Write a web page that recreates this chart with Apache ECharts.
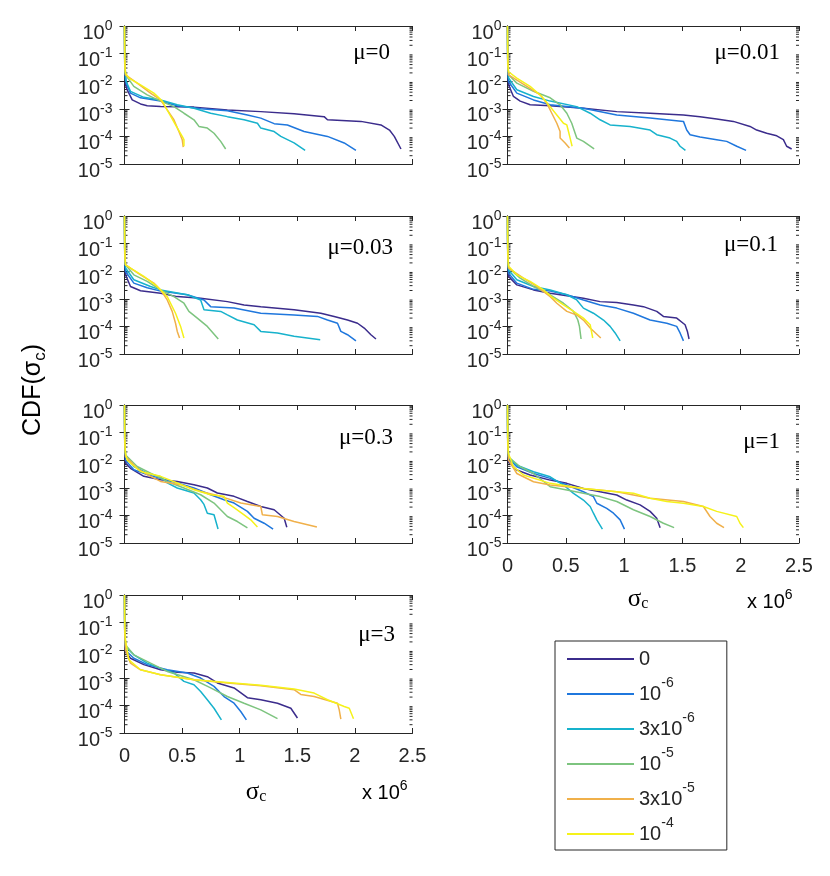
<!DOCTYPE html>
<html><head><meta charset="utf-8">
<script src="https://cdn.jsdelivr.net/npm/echarts@6/dist/echarts.min.js"></script>
<style>html,body{margin:0;padding:0;background:#fff}#c{width:830px;height:876px}</style>
</head><body><div id="c"></div>
<script>
// ---------- data (x in units of 10^6) ----------
const seriesNames = ['0', '10^-6', '3x10^-6', '10^-5', '3x10^-5', '10^-4'];
const seriesColors = ['#3b2c8c', '#1f77dd', '#17b2cc', '#7dc47f', '#f0b04a', '#f5f21a'];
const muLabels = ['μ=0', 'μ=0.01', 'μ=0.03', 'μ=0.1', 'μ=0.3', 'μ=1', 'μ=3'];
const minorTickValues = [2e-5,3e-5,4e-5,5e-5,6e-5,7e-5,8e-5,9e-5,2e-4,3e-4,4e-4,5e-4,6e-4,7e-4,8e-4,9e-4,
  2e-3,3e-3,4e-3,5e-3,6e-3,7e-3,8e-3,9e-3,2e-2,3e-2,4e-2,5e-2,6e-2,7e-2,8e-2,9e-2,0.2,0.3,0.4,0.5,0.6,0.7,0.8,0.9];

const mu0 = [
  [[0,1],[0.002,0.04],[0.009,7.4e-3],[0.023,4.9e-3],[0.067,2.1e-3],[0.139,1.5e-3],[0.197,1.3e-3],[0.313,1.2e-3],[0.603,1.15e-3],[0.893,9.1e-4],[1.183,7.9e-4],[1.472,6.6e-4],[1.733,5.2e-4],[1.762,4.0e-4],[2.052,3.5e-4],[2.226,2.6e-4],[2.30,1.7e-4],[2.342,1.0e-4],[2.40,3.5e-5]],
  [[0,1],[0.002,0.05],[0.0145,8.5e-3],[0.052,3.7e-3],[0.139,2.5e-3],[0.313,1.9e-3],[0.458,1.3e-3],[0.661,1.0e-3],[0.893,8.5e-4],[1.067,6.0e-4],[1.183,4.6e-4],[1.299,2.9e-4],[1.414,2.6e-4],[1.559,1.5e-4],[1.762,1.0e-4],[1.907,5.8e-5],[2.009,3.1e-5]],
  [[0,1],[0.002,0.06],[0.009,1.1e-2],[0.052,4.3e-3],[0.168,2.6e-3],[0.313,2.1e-3],[0.458,1.4e-3],[0.603,1.05e-3],[0.748,6.9e-4],[0.893,5.2e-4],[1.038,4.0e-4],[1.154,3.0e-4],[1.183,2.0e-4],[1.299,1.5e-4],[1.357,1.0e-4],[1.472,5.8e-5],[1.568,3.1e-5]],
  [[0,1],[0.002,0.07],[0.009,1.7e-2],[0.081,6.5e-3],[0.197,3.2e-3],[0.313,1.9e-3],[0.429,1.2e-3],[0.516,6.9e-4],[0.603,4.0e-4],[0.646,2.3e-4],[0.719,2.0e-4],[0.777,1.3e-4],[0.835,6.6e-5],[0.878,3.5e-5]],
  [[0,1],[0.002,0.07],[0.009,1.7e-2],[0.110,8.5e-3],[0.226,3.7e-3],[0.313,2.1e-3],[0.371,9.1e-4],[0.429,4.0e-4],[0.472,1.5e-4],[0.501,7.6e-5],[0.510,4.1e-5]],
  [[0,1],[0.002,0.1],[0.004,0.03],[0.009,1.95e-2],[0.038,1.3e-2],[0.139,7.4e-3],[0.255,3.7e-3],[0.328,1.9e-3],[0.386,6.9e-4],[0.443,2.6e-4],[0.501,1.0e-4],[0.516,7.6e-5],[0.516,4.4e-5]]
];
const mu001 = [
  [[0,1],[0.002,0.04],[0.009,7.4e-3],[0.051,2.8e-3],[0.109,1.9e-3],[0.194,1.4e-3],[0.366,1.3e-3],[0.651,1.05e-3],[0.937,7.9e-4],[1.223,6.9e-4],[1.509,6.0e-4],[1.651,5.2e-4],[1.794,4.3e-4],[1.937,3.5e-4],[2.08,2.3e-4],[2.137,1.7e-4],[2.223,1.3e-4],[2.309,1.05e-4],[2.366,7.6e-5],[2.394,4.4e-5],[2.437,3.5e-5]],
  [[0,1],[0.002,0.05],[0.009,9.8e-3],[0.08,3.7e-3],[0.223,2.1e-3],[0.366,1.4e-3],[0.651,1.05e-3],[0.937,6.0e-4],[1.223,4.6e-4],[1.509,3.5e-4],[1.537,1.7e-4],[1.566,1.15e-4],[1.651,9.5e-5],[1.794,7.6e-5],[1.88,6.6e-5],[1.966,4.4e-5],[2.046,3.1e-5]],
  [[0,1],[0.002,0.06],[0.009,1.3e-2],[0.08,4.9e-3],[0.223,2.8e-3],[0.366,1.9e-3],[0.594,1.2e-3],[0.709,6.9e-4],[0.794,4.0e-4],[0.88,2.6e-4],[1.051,2.3e-4],[1.223,1.7e-4],[1.28,1.15e-4],[1.394,8.7e-5],[1.451,6.6e-5],[1.48,4.4e-5],[1.526,3.1e-5]],
  [[0,1],[0.002,0.07],[0.009,1.7e-2],[0.08,8.5e-3],[0.223,4.3e-3],[0.366,2.5e-3],[0.451,1.4e-3],[0.509,6.9e-4],[0.551,3.0e-4],[0.58,1.3e-4],[0.594,8.7e-5],[0.651,6.6e-5],[0.743,3.5e-5]],
  [[0,1],[0.002,0.07],[0.009,1.7e-2],[0.166,6.5e-3],[0.28,3.2e-3],[0.337,1.6e-3],[0.38,6.9e-4],[0.423,3.0e-4],[0.451,1.5e-4],[0.451,8.7e-5],[0.494,5.8e-5],[0.531,3.8e-5]],
  [[0,1],[0.002,0.1],[0.004,0.035],[0.009,2.2e-2],[0.08,1.3e-2],[0.194,6.5e-3],[0.294,2.8e-3],[0.366,1.2e-3],[0.423,6.0e-4],[0.48,3.0e-4],[0.509,2.6e-4],[0.523,1.5e-4],[0.537,8.7e-5],[0.554,4.4e-5]]
];
const mu003 = [
  [[0,1],[0.002,0.04],[0.009,7.4e-3],[0.052,2.8e-3],[0.139,1.95e-3],[0.313,1.6e-3],[0.458,1.2e-3],[0.661,1.05e-3],[0.893,7.9e-4],[1.038,6.0e-4],[1.183,5.2e-4],[1.472,4.0e-4],[1.704,3.0e-4],[1.82,2.3e-4],[1.936,1.7e-4],[2.023,1.3e-4],[2.081,8.7e-5],[2.139,5.0e-5],[2.183,3.5e-5]],
  [[0,1],[0.002,0.05],[0.009,9.8e-3],[0.081,3.7e-3],[0.197,2.5e-3],[0.313,1.9e-3],[0.545,1.4e-3],[0.69,9.1e-4],[0.748,5.2e-4],[0.951,4.6e-4],[1.183,3.0e-4],[1.472,2.6e-4],[1.675,2.3e-4],[1.762,1.7e-4],[1.849,1.3e-4],[1.878,6.6e-5],[1.936,5.0e-5],[2.009,3.0e-5]],
  [[0,1],[0.002,0.06],[0.009,1.3e-2],[0.081,4.9e-3],[0.226,2.8e-3],[0.313,2.1e-3],[0.545,1.4e-3],[0.661,9.1e-4],[0.69,4.0e-4],[0.835,3.5e-4],[0.893,2.6e-4],[0.98,1.7e-4],[1.125,1.15e-4],[1.183,6.6e-5],[1.328,5.8e-5],[1.472,4.4e-5],[1.699,3.3e-5]],
  [[0,1],[0.002,0.07],[0.009,1.7e-2],[0.081,7.4e-3],[0.197,4.3e-3],[0.313,2.1e-3],[0.429,1.2e-3],[0.516,6.9e-4],[0.559,3.5e-4],[0.632,2.0e-4],[0.719,1.0e-4],[0.814,3.5e-5]],
  [[0,1],[0.002,0.07],[0.009,1.7e-2],[0.139,7.4e-3],[0.255,3.7e-3],[0.313,2.1e-3],[0.371,9.1e-4],[0.414,3.5e-4],[0.443,1.3e-4],[0.458,6.6e-5],[0.478,3.8e-5]],
  [[0,1],[0.002,0.1],[0.004,0.03],[0.009,1.7e-2],[0.052,1.3e-2],[0.168,6.5e-3],[0.284,2.8e-3],[0.371,1.2e-3],[0.443,3.0e-4],[0.487,1.0e-4],[0.516,3.8e-5]]
];
const mu01 = [
  [[0,1],[0.002,0.04],[0.009,6.5e-3],[0.08,3.2e-3],[0.223,2.1e-3],[0.366,1.6e-3],[0.509,1.3e-3],[0.651,1.05e-3],[0.794,7.9e-4],[0.937,7.4e-4],[1.08,6.0e-4],[1.166,5.2e-4],[1.28,3.5e-4],[1.337,2.3e-4],[1.451,2.0e-4],[1.523,1.15e-4],[1.543,6.6e-5],[1.557,3.5e-5]],
  [[0,1],[0.002,0.05],[0.009,8.5e-3],[0.08,3.7e-3],[0.223,2.2e-3],[0.366,1.9e-3],[0.509,1.4e-3],[0.651,9.1e-4],[0.794,6.0e-4],[0.937,4.6e-4],[1.08,3.0e-4],[1.223,1.7e-4],[1.366,1.3e-4],[1.451,1.0e-4],[1.48,5.8e-5],[1.509,3.0e-5]],
  [[0,1],[0.002,0.06],[0.009,1.1e-2],[0.08,4.9e-3],[0.223,2.8e-3],[0.366,2.1e-3],[0.509,1.4e-3],[0.594,9.1e-4],[0.651,4.6e-4],[0.737,3.0e-4],[0.823,1.7e-4],[0.88,1.0e-4],[0.923,5.8e-5],[0.966,3.0e-5]],
  [[0,1],[0.002,0.07],[0.009,1.3e-2],[0.109,5.6e-3],[0.223,2.8e-3],[0.366,1.4e-3],[0.48,6.9e-4],[0.566,3.5e-4],[0.603,1.7e-4],[0.617,1.0e-4],[0.631,3.5e-5]],
  [[0,1],[0.002,0.07],[0.009,1.3e-2],[0.137,5.6e-3],[0.251,2.8e-3],[0.366,1.2e-3],[0.423,6.9e-4],[0.509,3.5e-4],[0.594,2.6e-4],[0.651,1.7e-4],[0.709,8.7e-5],[0.80,3.8e-5]],
  [[0,1],[0.002,0.1],[0.004,0.03],[0.009,1.5e-2],[0.08,7.4e-3],[0.194,4.3e-3],[0.309,2.1e-3],[0.394,1.05e-3],[0.48,6.0e-4],[0.566,3.5e-4],[0.651,2.0e-4],[0.709,1.15e-4],[0.731,3.8e-5]]
];
const mu03 = [
  [[0,1],[0.002,0.04],[0.009,7.8e-3],[0.052,5.1e-3],[0.168,2.6e-3],[0.313,1.95e-3],[0.458,1.7e-3],[0.603,1.3e-3],[0.719,9.8e-4],[0.806,6.5e-4],[0.951,4.9e-4],[1.067,3.2e-4],[1.183,2.1e-4],[1.299,1.6e-4],[1.386,7.9e-5],[1.409,3.7e-5]],
  [[0,1],[0.002,0.05],[0.009,1.0e-2],[0.081,4.5e-3],[0.197,3.0e-3],[0.313,2.2e-3],[0.458,1.5e-3],[0.603,9.8e-4],[0.748,5.6e-4],[0.864,3.7e-4],[0.951,2.8e-4],[1.067,1.4e-4],[1.125,7.9e-5],[1.212,5.2e-5],[1.29,3.2e-5]],
  [[0,1],[0.002,0.06],[0.009,1.55e-2],[0.081,5.9e-3],[0.197,3.4e-3],[0.313,2.5e-3],[0.371,1.5e-3],[0.458,9.8e-4],[0.603,6.5e-4],[0.661,3.7e-4],[0.69,2.5e-4],[0.719,1.2e-4],[0.777,1.05e-4],[0.812,3.2e-5]],
  [[0,1],[0.002,0.06],[0.009,1.55e-2],[0.11,5.9e-3],[0.226,3.4e-3],[0.371,1.7e-3],[0.516,9.8e-4],[0.661,5.6e-4],[0.777,2.8e-4],[0.893,9.1e-5],[0.98,6.0e-5],[1.067,3.5e-5]],
  [[0,1],[0.002,0.06],[0.009,1.35e-2],[0.11,5.1e-3],[0.197,3.0e-3],[0.313,1.7e-3],[0.487,1.3e-3],[0.661,7.4e-4],[0.835,4.9e-4],[1.009,2.8e-4],[1.183,2.1e-4],[1.197,1.05e-4],[1.328,9.1e-5],[1.472,6.0e-5],[1.67,3.8e-5]],
  [[0,1],[0.002,0.1],[0.004,0.035],[0.009,1.8e-2],[0.023,1.0e-2],[0.139,3.9e-3],[0.313,2.6e-3],[0.458,1.5e-3],[0.603,8.5e-4],[0.748,5.6e-4],[0.864,4.9e-4],[0.893,2.8e-4],[0.951,1.9e-4],[1.038,1.05e-4],[1.096,6.9e-5],[1.154,3.8e-5]]
];
const mu1 = [
  [[0,1],[0.002,0.04],[0.009,8.7e-3],[0.08,4.4e-3],[0.194,2.9e-3],[0.366,1.9e-3],[0.509,1.45e-3],[0.651,9.5e-4],[0.794,7.2e-4],[0.937,5.5e-4],[1.023,3.6e-4],[1.137,2.4e-4],[1.223,1.4e-4],[1.28,7.9e-5],[1.309,3.6e-5]],
  [[0,1],[0.002,0.05],[0.009,1.15e-2],[0.08,5.8e-3],[0.223,3.3e-3],[0.366,2.2e-3],[0.509,1.26e-3],[0.651,7.2e-4],[0.737,4.8e-4],[0.766,2.75e-4],[0.851,1.8e-4],[0.909,1.2e-4],[0.966,6.9e-5],[1.003,3.2e-5]],
  [[0,1],[0.002,0.06],[0.009,1.3e-2],[0.08,6.6e-3],[0.223,3.8e-3],[0.366,2.5e-3],[0.48,1.26e-3],[0.566,6.3e-4],[0.651,3.6e-4],[0.709,2.1e-4],[0.737,1.2e-4],[0.766,6.9e-5],[0.814,3.2e-5]],
  [[0,1],[0.002,0.06],[0.009,1.3e-2],[0.109,5.8e-3],[0.223,3.3e-3],[0.366,1.1e-3],[0.509,8.3e-4],[0.651,6.3e-4],[0.794,4.8e-4],[0.937,3.2e-4],[1.08,1.6e-4],[1.223,9.1e-5],[1.337,5.2e-5],[1.429,3.6e-5]],
  [[0,1],[0.002,0.06],[0.009,1.0e-2],[0.08,3.3e-3],[0.223,1.66e-3],[0.366,1.26e-3],[0.651,9.5e-4],[0.937,7.2e-4],[1.08,5.5e-4],[1.223,4.2e-4],[1.509,3.2e-4],[1.68,2.1e-4],[1.737,9.1e-5],[1.794,5.2e-5],[1.857,3.6e-5]],
  [[0,1],[0.002,0.1],[0.004,0.035],[0.009,1.7e-2],[0.051,5.8e-3],[0.137,2.9e-3],[0.366,1.45e-3],[0.651,9.5e-4],[0.937,7.2e-4],[1.08,6.3e-4],[1.223,4.2e-4],[1.366,3.2e-4],[1.509,2.75e-4],[1.68,2.1e-4],[1.794,1.4e-4],[1.966,9.1e-5],[1.994,5.2e-5],[2.023,3.6e-5]]
];
const mu3 = [
  [[0,1],[0.002,0.04],[0.009,8.9e-3],[0.052,5.1e-3],[0.168,3.0e-3],[0.313,1.95e-3],[0.458,1.6e-3],[0.603,1.5e-3],[0.719,1.1e-3],[0.806,6.5e-4],[0.951,4.3e-4],[1.067,1.9e-4],[1.183,1.6e-4],[1.328,1.2e-4],[1.444,7.9e-5],[1.501,3.5e-5]],
  [[0,1],[0.002,0.05],[0.009,1.0e-2],[0.081,5.1e-3],[0.197,3.0e-3],[0.371,1.95e-3],[0.545,1.5e-3],[0.661,9.8e-4],[0.777,4.9e-4],[0.864,2.1e-4],[0.951,1.2e-4],[1.009,6.0e-5],[1.058,3.0e-5]],
  [[0,1],[0.002,0.06],[0.009,1.35e-2],[0.081,6.8e-3],[0.197,3.4e-3],[0.313,2.2e-3],[0.429,1.5e-3],[0.516,7.4e-4],[0.603,5.6e-4],[0.661,3.2e-4],[0.719,1.6e-4],[0.777,7.9e-5],[0.841,3.0e-5]],
  [[0,1],[0.002,0.06],[0.009,1.55e-2],[0.081,6.8e-3],[0.226,3.4e-3],[0.371,1.7e-3],[0.603,8.5e-4],[0.748,4.3e-4],[0.893,2.1e-4],[1.038,1.2e-4],[1.183,6.9e-5],[1.328,3.3e-5]],
  [[0,1],[0.002,0.05],[0.009,1.0e-2],[0.052,3.4e-3],[0.139,1.95e-3],[0.313,1.3e-3],[0.603,8.5e-4],[0.893,6.5e-4],[1.183,5.2e-4],[1.472,3.7e-4],[1.53,2.5e-4],[1.646,2.1e-4],[1.849,1.2e-4],[1.864,6.9e-5],[1.878,3.2e-5]],
  [[0,1],[0.002,0.1],[0.004,0.04],[0.009,2.3e-2],[0.038,4.5e-3],[0.139,1.95e-3],[0.313,1.3e-3],[0.603,8.5e-4],[0.893,6.8e-4],[1.183,5.4e-4],[1.472,3.9e-4],[1.646,2.8e-4],[1.762,1.6e-4],[1.907,9.1e-5],[1.951,7.9e-5],[1.988,3.3e-5]]
];
const panelData = [mu0, mu001, mu003, mu01, mu03, mu1, mu3];

// ---------- layout ----------
const panelBoxes = [
  {l:124.5, t:26, w:288}, {l:507.5, t:26, w:291.5},
  {l:124.5, t:216, w:288}, {l:507.5, t:216, w:291.5},
  {l:124.5, t:405, w:288}, {l:507.5, t:405, w:291.5},
  {l:124.5, t:595, w:288}
];
const panelH = 138;
const muPos = [[390,53],[780,53],[393,248],[778,245],[393,438],[780,442],[395,635]];
const showXLabels = [false,false,false,false,false,true,true];

const INK = '#262626';
const SANS = '"Liberation Sans", Arial, sans-serif';
const SERIF = '"Liberation Serif", "Times New Roman", serif';

const supRich = {
  b: {fontSize: 20, lineHeight: 28, fontFamily: SANS, color: INK},
  s: {fontSize: 14, lineHeight: 16, verticalAlign: 'top', fontFamily: SANS, color: INK},
  p: {fontSize: 20, lineHeight: 16, fontFamily: SANS, color: INK}
};
const legendRich = {
  b: {fontSize: 20, lineHeight: 36, fontFamily: SANS, color: INK},
  s: {fontSize: 14, lineHeight: 24, verticalAlign: 'top', fontFamily: SANS, color: INK},
  p: {fontSize: 20, lineHeight: 8, fontFamily: SANS, color: INK}
};
function supText(name) {
  if (name.indexOf('^') < 0) return '{p|' + name + '}';
  const parts = name.split('^');
  return '{b|' + parts[0] + '}{s|' + parts[1] + '}';
}

const grid = [], xAxis = [], yAxis = [], series = [], graphic = [];
panelBoxes.forEach((b, p) => {
  grid.push({left: b.l, top: b.t, width: b.w, height: panelH});
  const axLine = {show: true, lineStyle: {color: INK, width: 1}};
  const tick = {show: true, inside: true, length: 5, lineStyle: {color: INK, width: 1}};
  xAxis.push({gridIndex: p, type: 'value', min: 0, max: 2.5, interval: 0.5, position: 'bottom',
    axisLine: axLine, axisTick: tick, splitLine: {show: false},
    axisLabel: {show: showXLabels[p], fontSize: 20, fontFamily: SANS, color: INK, margin: 13}});
  xAxis.push({gridIndex: p, type: 'value', min: 0, max: 2.5, interval: 0.5, position: 'top',
    axisLine: axLine, axisTick: tick, splitLine: {show: false}, axisLabel: {show: false}});
  yAxis.push({gridIndex: p, type: 'log', logBase: 10, min: 1e-5, max: 1, position: 'left',
    axisLine: axLine, axisTick: tick, splitLine: {show: false},
    axisLabel: {show: true, margin: (p % 2 === 0) ? 12 : 6, padding: [14, 0, 0, 0], rich: supRich,
      formatter: v => '{b|10}{s|' + Math.round(Math.log10(v)) + '}'}});
  yAxis.push({gridIndex: p, type: 'log', logBase: 10, min: 1e-5, max: 1, position: 'right',
    axisLine: axLine, axisTick: tick, splitLine: {show: false}, axisLabel: {show: false}});

  // minor log ticks on left and right edges
  series.push({type: 'custom', xAxisIndex: 2 * p, yAxisIndex: 2 * p, silent: true, z: 1,
    encode: {x: 0, y: 1}, data: minorTickValues.map(v => [0, v]),
    renderItem: (params, api) => {
      const v = api.value(1);
      const a = api.coord([0, v]);
      const c = api.coord([2.5, v]);
      return {type: 'group', children: [
        {type: 'line', shape: {x1: a[0], y1: a[1], x2: a[0] + 3, y2: a[1]}, style: {stroke: INK, lineWidth: 1}},
        {type: 'line', shape: {x1: c[0] - 3, y1: c[1], x2: c[0], y2: c[1]}, style: {stroke: INK, lineWidth: 1}}
      ]};
    }});

  panelData[p].forEach((d, s) => {
    series.push({type: 'line', name: seriesNames[s], xAxisIndex: 2 * p, yAxisIndex: 2 * p,
      data: d, symbol: 'none', showSymbol: false, z: 2 + s,
      lineStyle: {width: 1.5, color: seriesColors[s]}, itemStyle: {color: seriesColors[s]}});
  });

  graphic.push({type: 'text', x: muPos[p][0], y: muPos[p][1],
    style: {text: muLabels[p], fontSize: 23, fontFamily: SERIF, fill: '#000', align: 'right', verticalAlign: 'middle'}});
});

// axis titles
const sigmaRich = {
  g: {fontSize: 25, lineHeight: 25, fontFamily: SERIF, color: '#000', verticalAlign: 'top'},
  c: {fontSize: 16, lineHeight: 16, fontFamily: SERIF, color: '#000', verticalAlign: 'bottom', padding: [12, 0, 0, 0]}
};
[[638, 599], [256, 792]].forEach(pt => {
  graphic.push({type: 'text', x: pt[0], y: pt[1],
    style: {text: '{g|σ}{c|c}', rich: sigmaRich, align: 'center', verticalAlign: 'middle'}});
});
[[747, 602], [362, 793]].forEach(pt => {
  graphic.push({type: 'text', x: pt[0], y: pt[1],
    style: {text: '{b|x 10}{s|6}', rich: supRich, align: 'left', verticalAlign: 'middle'}});
});
graphic.push({type: 'text', x: 35, y: 390, rotation: Math.PI / 2,
  style: {text: '{a|CDF(σ}{c|c}{a|)}', align: 'center', verticalAlign: 'middle',
    rich: {
      a: {fontSize: 25, lineHeight: 28, fontFamily: SANS, color: '#1a1a1a', verticalAlign: 'top'},
      c: {fontSize: 17, lineHeight: 17, fontFamily: SANS, color: '#1a1a1a', verticalAlign: 'bottom', padding: [13, 0, 0, 0]}
    }}});

const chart = echarts.init(document.getElementById('c'), null, {renderer: 'canvas'});
chart.setOption({
  animation: false,
  backgroundColor: '#fff',
  grid, xAxis, yAxis, series, graphic,
  legend: {
    data: seriesNames, orient: 'vertical', left: 555, top: 641,
    padding: [8, 32, 6, 12], itemGap: 7, itemWidth: 67, itemHeight: 2, icon: 'rect',
    borderColor: INK, borderWidth: 1, backgroundColor: '#fff', selectedMode: false,
    formatter: supText,
    textStyle: {color: INK, fontFamily: SANS, fontSize: 20, rich: legendRich}
  }
});
</script></body></html>
